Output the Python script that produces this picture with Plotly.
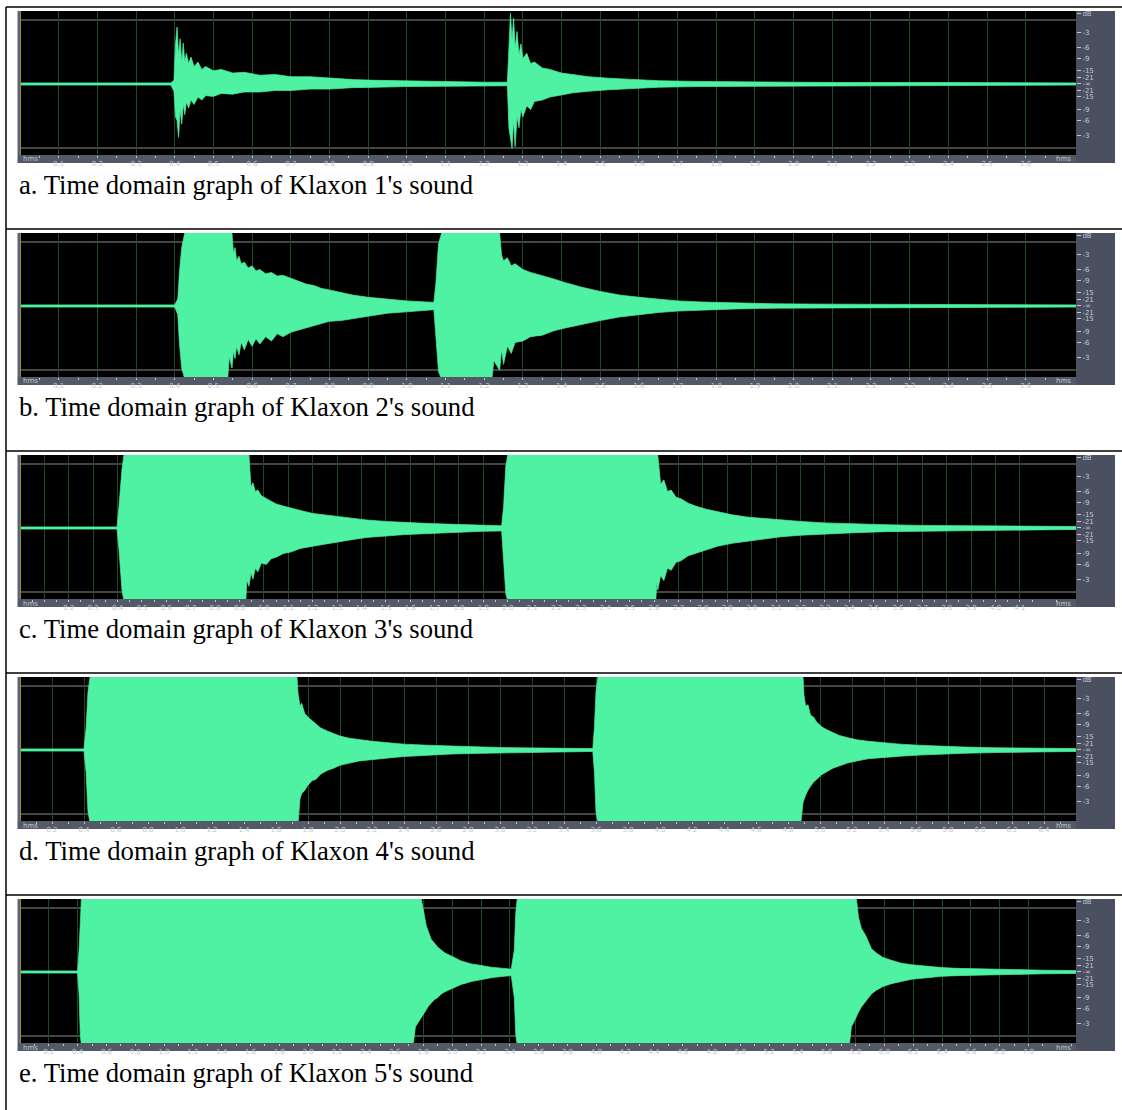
import plotly.graph_objects as go

W, H = 1122, 1110
GREEN = "#4ef2a2"

# ---------------- data (amplitude relative to full scale, time in s) ----------------
captions = ["a. Time domain graph of Klaxon 1's sound",
            "b. Time domain graph of Klaxon 2's sound",
            "c. Time domain graph of Klaxon 3's sound",
            "d. Time domain graph of Klaxon 4's sound",
            "e. Time domain graph of Klaxon 5's sound"]

t_end = [2.73, 2.73, 4.33, 6.6, 7.33]

# Klaxon 1
t_k1 = [0, 0.39, 0.398, 0.402, 0.406, 0.41, 0.414, 0.418, 0.422, 0.426, 0.43, 0.436, 0.442, 0.45, 0.46, 0.47,
        0.48, 0.5, 0.52, 0.55, 0.58, 0.62, 0.66, 0.7, 0.75, 0.8, 0.86, 0.92, 1.0, 1.1, 1.2, 1.26, 1.264, 1.268,
        1.272, 1.276, 1.28, 1.285, 1.29, 1.295, 1.3, 1.31, 1.32, 1.33, 1.35, 1.37, 1.4, 1.43, 1.47, 1.52, 1.58,
        1.65, 1.75, 1.9, 2.1, 2.4, 2.73]
up_k1 = [0.015, 0.015, 0.05, 0.55, 0.78, 0.4, 0.62, 0.3, 0.56, 0.3, 0.42, 0.28, 0.37, 0.24, 0.3, 0.2,
         0.24, 0.18, 0.2, 0.15, 0.16, 0.12, 0.13, 0.1, 0.1, 0.08, 0.06, 0.05, 0.04, 0.03, 0.025, 0.025, 0.5, 0.97,
         0.6, 0.9, 0.5, 0.72, 0.4, 0.55, 0.35, 0.42, 0.28, 0.3, 0.22, 0.2, 0.15, 0.13, 0.1, 0.08, 0.06,
         0.045, 0.035, 0.025, 0.02, 0.02, 0.015]
lo_k1 = [-0.015, -0.015, -0.1, -0.45, -0.5, -0.73, -0.35, -0.55, -0.28, -0.42, -0.25, -0.33, -0.22, -0.28, -0.18, -0.22,
         -0.16, -0.17, -0.13, -0.14, -0.11, -0.11, -0.09, -0.09, -0.07, -0.07, -0.05, -0.045, -0.035, -0.03, -0.025, -0.025, -0.6, -0.75,
         -0.88, -0.5, -0.86, -0.45, -0.6, -0.35, -0.45, -0.3, -0.35, -0.24, -0.22, -0.18, -0.15, -0.12, -0.1, -0.08, -0.06,
         -0.045, -0.035, -0.025, -0.02, -0.02, -0.015]

# Klaxon 2
t_k2 = [0, 0.4, 0.408, 0.412, 0.418, 0.426, 0.5, 0.51, 0.515, 0.537, 0.541, 0.548, 0.552, 0.556, 0.56, 0.566,
        0.572, 0.58, 0.59, 0.6, 0.61, 0.62, 0.635, 0.65, 0.665, 0.68, 0.7, 0.72, 0.74, 0.76, 0.78, 0.8, 0.83,
        0.86, 0.9, 0.95, 1.0, 1.05, 1.07, 1.075, 1.082, 1.09, 1.2, 1.22, 1.225, 1.24, 1.245, 1.25, 1.26, 1.27,
        1.28, 1.3, 1.32, 1.35, 1.38, 1.41, 1.45, 1.5, 1.55, 1.6, 1.65, 1.7, 1.76, 1.85, 1.95, 2.1, 2.4, 2.73]
up_k2 = [0.015, 0.015, 0.1, 0.45, 0.8, 1.0, 1.0, 1.0, 1.0, 1.0, 1.0, 1.0, 0.72, 0.8, 0.62, 0.68,
         0.58, 0.6, 0.52, 0.55, 0.48, 0.5, 0.44, 0.46, 0.41, 0.42, 0.38, 0.34, 0.3, 0.28, 0.24, 0.22, 0.18,
         0.15, 0.12, 0.09, 0.07, 0.055, 0.05, 0.3, 0.85, 1.0, 1.0, 1.0, 1.0, 1.0, 0.7, 0.62, 0.66, 0.55,
         0.58, 0.5, 0.46, 0.42, 0.37, 0.32, 0.26, 0.2, 0.15, 0.12, 0.09, 0.07, 0.055, 0.04, 0.03, 0.025, 0.02, 0.015]
lo_k2 = [-0.015, -0.015, -0.12, -0.5, -0.85, -1.0, -1.0, -1.0, -1.0, -1.0, -0.7, -0.85, -0.62, -0.72, -0.55, -0.67,
         -0.5, -0.6, -0.46, -0.55, -0.45, -0.52, -0.42, -0.48, -0.38, -0.42, -0.36, -0.33, -0.3, -0.27, -0.24, -0.21, -0.2,
         -0.17, -0.14, -0.1, -0.08, -0.06, -0.05, -0.35, -0.9, -1.0, -1.0, -1.0, -0.75, -0.88, -0.6, -0.8, -0.55, -0.65,
         -0.5, -0.48, -0.42, -0.4, -0.34, -0.3, -0.25, -0.2, -0.15, -0.12, -0.09, -0.07, -0.055, -0.04, -0.03, -0.025, -0.02, -0.015]

# Klaxon 3
t_k3 = [0, 0.398, 0.406, 0.418, 0.426, 0.926, 0.93, 0.939, 0.947, 0.955, 0.965, 0.975, 0.99, 1.01, 1.03,
        1.05, 1.08, 1.11, 1.15, 1.2, 1.25, 1.3, 1.36, 1.42, 1.5, 1.58, 1.68, 1.78, 1.9, 1.975, 1.983, 1.992,
        2.0, 2.607, 2.611, 2.615, 2.627, 2.64, 2.655, 2.67, 2.69, 2.71, 2.74, 2.77, 2.81, 2.86, 2.92, 2.98,
        3.05, 3.12, 3.2, 3.3, 3.42, 3.55, 3.7, 3.85, 4.0, 4.33]
up_k3 = [0.015, 0.015, 0.3, 0.8, 1.0, 1.0, 1.0, 1.0, 0.56, 0.62, 0.5, 0.52, 0.44, 0.4, 0.36,
         0.33, 0.3, 0.27, 0.24, 0.2, 0.18, 0.15, 0.13, 0.11, 0.09, 0.075, 0.06, 0.05, 0.035, 0.03, 0.3, 0.85,
         1.0, 1.0, 1.0, 1.0, 0.6, 0.66, 0.5, 0.52, 0.42, 0.4, 0.34, 0.3, 0.26, 0.22, 0.18, 0.15,
         0.13, 0.11, 0.09, 0.07, 0.055, 0.045, 0.035, 0.03, 0.025, 0.02]
lo_k3 = [-0.015, -0.015, -0.3, -0.85, -1.0, -1.0, -0.72, -0.8, -0.62, -0.7, -0.55, -0.6, -0.48, -0.5, -0.42,
         -0.4, -0.35, -0.33, -0.28, -0.25, -0.22, -0.19, -0.16, -0.13, -0.11, -0.09, -0.07, -0.06, -0.045, -0.04, -0.35, -0.9,
         -1.0, -1.0, -0.75, -0.85, -0.65, -0.72, -0.55, -0.58, -0.47, -0.45, -0.38, -0.34, -0.3, -0.25, -0.21, -0.18,
         -0.15, -0.12, -0.1, -0.08, -0.065, -0.05, -0.04, -0.035, -0.03, -0.02]

# Klaxon 4
t_k4 = [0, 0.4, 0.413, 0.425, 0.438, 1.731, 1.738, 1.75, 1.76, 1.78, 1.8, 1.825, 1.85, 1.88, 1.92,
        1.96, 2.0, 2.06, 2.12, 2.2, 2.3, 2.4, 2.55, 2.7, 2.9, 3.1, 3.3, 3.5, 3.58, 3.59, 3.6, 3.612,
        4.88, 4.894, 4.9, 4.91, 4.925, 4.94, 4.96, 4.98, 5.01, 5.04, 5.08, 5.12, 5.17, 5.23, 5.3, 5.4,
        5.5, 5.62, 5.75, 5.9, 6.1, 6.35, 6.6]
up_k4 = [0.015, 0.015, 0.3, 0.8, 1.0, 1.0, 0.77, 0.6, 0.64, 0.5, 0.45, 0.4, 0.36, 0.3, 0.26,
         0.22, 0.19, 0.16, 0.14, 0.12, 0.1, 0.08, 0.065, 0.05, 0.04, 0.03, 0.025, 0.02, 0.02, 0.3, 0.8, 1.0,
         1.0, 1.0, 0.75, 0.6, 0.62, 0.48, 0.45, 0.38, 0.32, 0.28, 0.24, 0.2, 0.17, 0.14, 0.12, 0.095,
         0.08, 0.065, 0.05, 0.04, 0.03, 0.025, 0.02]
lo_k4 = [-0.015, -0.015, -0.3, -0.85, -1.0, -1.0, -1.0, -0.67, -0.6, -0.55, -0.48, -0.42, -0.4, -0.33, -0.28,
         -0.25, -0.21, -0.18, -0.15, -0.13, -0.11, -0.09, -0.07, -0.055, -0.045, -0.035, -0.028, -0.022, -0.02, -0.3, -0.85, -1.0,
         -1.0, -0.72, -0.68, -0.62, -0.55, -0.5, -0.44, -0.4, -0.34, -0.3, -0.25, -0.22, -0.18, -0.15, -0.12, -0.1,
         -0.085, -0.07, -0.055, -0.045, -0.035, -0.025, -0.02]

# Klaxon 5
t_k5 = [0, 0.4, 0.41, 0.418, 0.426, 2.729, 2.745, 2.765, 2.785, 2.8, 2.819, 2.835, 2.854, 2.875, 2.9,
        2.924, 2.95, 2.993, 3.03, 3.063, 3.1, 3.132, 3.17, 3.201, 3.24, 3.271, 3.31, 3.34, 3.38, 3.41,
        3.431, 3.441, 3.451, 5.757, 5.771, 5.79, 5.806, 5.82, 5.84, 5.87, 5.91, 5.944, 5.99, 6.049, 6.118,
        6.188, 6.26, 6.326, 6.396, 6.5, 6.604, 6.674, 6.78, 6.882, 6.951, 7.1, 7.33]
up_k5 = [0.015, 0.015, 0.3, 0.8, 1.0, 1.0, 1.0, 1.0, 1.0, 0.85, 0.64, 0.55, 0.45, 0.4, 0.34,
         0.3, 0.26, 0.22, 0.18, 0.15, 0.13, 0.11, 0.1, 0.085, 0.075, 0.065, 0.055, 0.05, 0.045, 0.04,
         0.3, 0.8, 1.0, 1.0, 1.0, 1.0, 1.0, 0.75, 0.6, 0.5, 0.32, 0.26, 0.2, 0.16, 0.12,
         0.1, 0.085, 0.07, 0.06, 0.05, 0.045, 0.04, 0.035, 0.03, 0.03, 0.025, 0.02]
lo_k5 = [-0.015, -0.015, -0.3, -0.85, -1.0, -1.0, -0.75, -0.7, -0.62, -0.58, -0.52, -0.47, -0.42, -0.38, -0.35,
         -0.3, -0.27, -0.23, -0.2, -0.17, -0.15, -0.13, -0.11, -0.1, -0.09, -0.08, -0.07, -0.06, -0.055, -0.05,
         -0.35, -0.85, -1.0, -1.0, -0.75, -0.68, -0.62, -0.55, -0.48, -0.4, -0.3, -0.25, -0.2, -0.16, -0.13,
         -0.1, -0.085, -0.07, -0.06, -0.05, -0.045, -0.04, -0.035, -0.03, -0.03, -0.025, -0.02]

times = [t_k1, t_k2, t_k3, t_k4, t_k5]
uppers = [up_k1, up_k2, up_k3, up_k4, up_k5]
lowers = [lo_k1, lo_k2, lo_k3, lo_k4, lo_k5]

# time-axis tick labels
ticks_a = [round(0.1 * k, 1) for k in range(1, 27)]
ticks_c = [round(0.1 * k, 1) for k in range(1, 42)]
ticks_d = [round(0.2 * k, 1) for k in range(1, 33)]
ticks_e = [round(0.2 * k, 1) for k in range(1, 36)]
tick_sets = [ticks_a, ticks_a, ticks_c, ticks_d, ticks_e]
tick_hide_first = [False, False, True, False, False]
minor_step = [0.1, 0.1, 0.1, 0.2, 0.2]

# dB scale (right side)
db_vals = [0.965, 0.708, 0.501, 0.355, 0.178, 0.089, 0.0, -0.089, -0.178, -0.355, -0.501, -0.708]
db_text = ["dB", "-3", "-6", "-9", "-15", "-21", "-\u221e", "-21", "-15", "-9", "-6", "-3"]

# ---------------- figure ----------------
def px(x):
    return x / W


def py(y):
    return 1 - y / H


tops = [11, 233, 455, 677, 899]
X0, X1, XR = 20, 1076, 1115
LIGHT = "#c3c7cf"

fig = go.Figure()
shapes = []
annotations = []
layout = {}

for i in range(5):
    n = i + 1
    T = tops[i]
    xa = "x" if n == 1 else f"x{n}"
    ya = "y" if n == 1 else f"y{n}"
    xk = "xaxis" if n == 1 else f"xaxis{n}"
    yk = "yaxis" if n == 1 else f"yaxis{n}"

    t = times[i]
    fig.add_trace(go.Scatter(
        x=t + t[::-1], y=uppers[i] + lowers[i][::-1],
        fill="toself", fillcolor=GREEN, mode="lines",
        line=dict(color=GREEN, width=0.7),
        xaxis=xa, yaxis=ya, hoverinfo="skip", showlegend=False))

    tv = tick_sets[i]
    tt = [("" if (tick_hide_first[i] and k == 0) else f"{v:.1f}") for k, v in enumerate(tv)]
    ms = minor_step[i]
    layout[xk] = dict(
        domain=[px(X0), px(X1)], range=[0, t_end[i]], anchor=ya,
        tickmode="array", tickvals=tv, ticktext=tt,
        showgrid=True, gridcolor="#1d4a22", gridwidth=1,
        ticks="outside", ticklen=2, tickcolor=LIGHT, tickwidth=1,
        tickfont=dict(size=7, color=LIGHT, family="DejaVu Sans"),
        zeroline=False, showline=False, fixedrange=True,
        minor=dict(ticks="outside", ticklen=2, tickcolor=LIGHT, tickmode="linear",
                   tick0=ms / 2, dtick=ms, showgrid=False),
    )
    layout[yk] = dict(
        domain=[py(T + 144), py(T)], range=[-0.973, 1.0], anchor=xa, side="right",
        tickmode="array", tickvals=db_vals, ticktext=db_text,
        showgrid=False, zeroline=False, showline=False,
        ticks="outside", ticklen=4, tickcolor=LIGHT, tickwidth=1,
        tickfont=dict(size=7, color=LIGHT, family="DejaVu Sans"), fixedrange=True,
    )

    # gray reference lines inside waveform area
    for yv in (0.877, -0.877):
        shapes.append(dict(type="line", xref=f"{xa} domain", yref=ya, x0=0, x1=1, y0=yv, y1=yv,
                           line=dict(color="#5c5c5c", width=1.5), layer="below"))

    # frame pieces of the screenshot
    shapes.append(dict(type="rect", xref="paper", yref="paper", x0=px(17.5), x1=px(X1), y0=py(T + 152), y1=py(T + 144),
                       fillcolor="#545967", line=dict(width=0), layer="below"))
    shapes.append(dict(type="rect", xref="paper", yref="paper", x0=px(X1), x1=px(XR), y0=py(T + 152), y1=py(T),
                       fillcolor="#4b5060", line=dict(width=0), layer="below"))
    shapes.append(dict(type="rect", xref="paper", yref="paper", x0=px(17.5), x1=px(X0), y0=py(T + 144), y1=py(T),
                       fillcolor="#5d6374", line=dict(width=0), layer="below"))
    shapes.append(dict(type="line", xref="paper", yref="paper", x0=px(X0 + 0.5), x1=px(X0 + 0.5), y0=py(T + 144), y1=py(T),
                       line=dict(color="#8d8c3a", width=1), layer="above"))

    # table separator line above each row
    shapes.append(dict(type="line", xref="paper", yref="paper", x0=px(6), x1=1, y0=py(T - 4), y1=py(T - 4),
                       line=dict(color="black", width=1.5)))

    # "hms" markers
    annotations.append(dict(text="hms", xref="paper", yref="paper", x=px(21), y=py(T + 148.5),
                            xanchor="left", yanchor="middle", showarrow=False,
                            font=dict(size=7, color=LIGHT, family="DejaVu Sans")))
    annotations.append(dict(text="hms", xref="paper", yref="paper", x=px(1063), y=py(T + 148.5),
                            xanchor="center", yanchor="middle", showarrow=False,
                            font=dict(size=7, color=LIGHT, family="DejaVu Sans")))
    # caption
    annotations.append(dict(text=captions[i], xref="paper", yref="paper", x=px(17), y=py(T + 174),
                            xanchor="left", yanchor="middle", showarrow=False,
                            font=dict(size=26.7, color="black", family="Liberation Serif")))

# left table border
shapes.append(dict(type="line", xref="paper", yref="paper", x0=px(6), x1=px(6), y0=0, y1=py(7),
                   line=dict(color="black", width=1.5)))

fig.update_layout(
    width=W, height=H, autosize=False,
    margin=dict(l=0, r=0, t=0, b=0, pad=0),
    paper_bgcolor="white", plot_bgcolor="black",
    showlegend=False, shapes=shapes, annotations=annotations,
    **layout,
)

fig.write_html("out.html",
               config={"displayModeBar": False, "staticPlot": True},
               post_script="document.body.style.margin='0';document.body.style.padding='0';"
                           "document.body.style.overflow='hidden';")
